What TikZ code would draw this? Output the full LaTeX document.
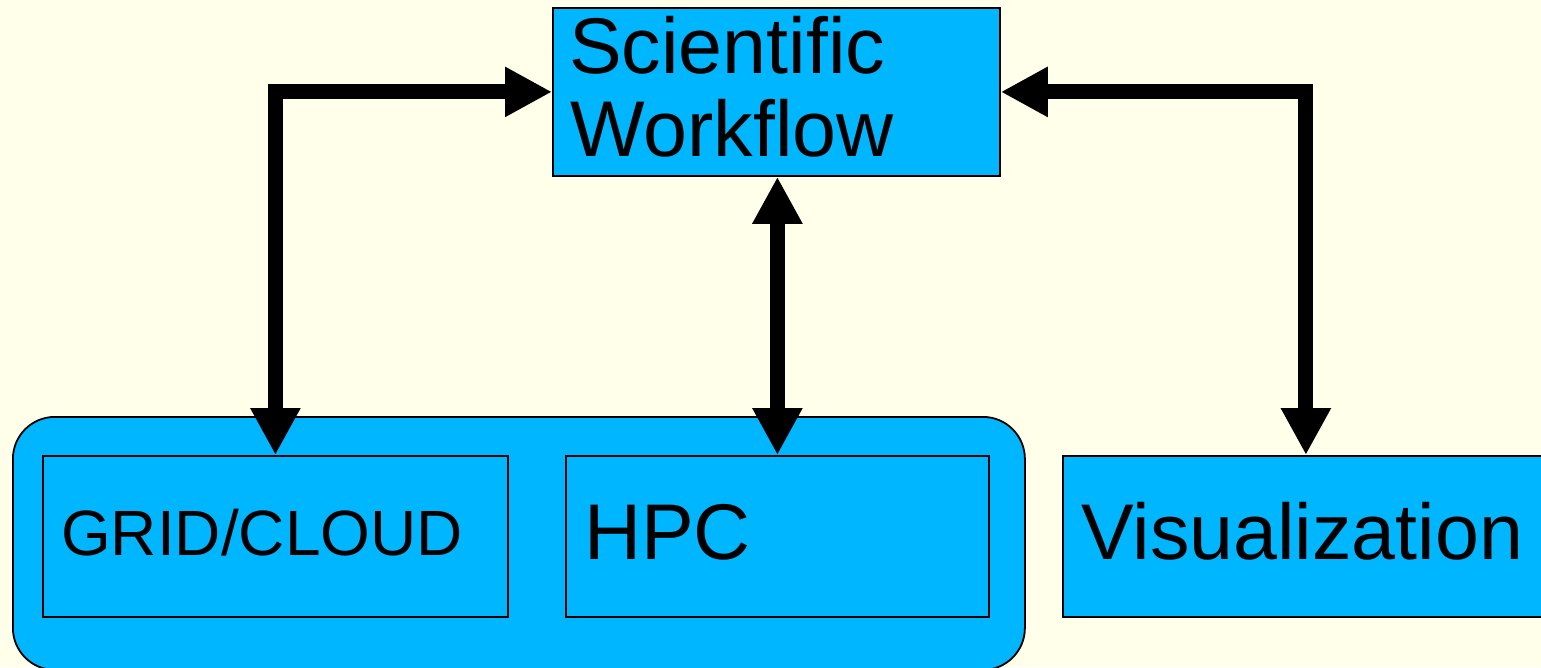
\documentclass[tikz,border=0pt]{standalone}
\usepackage{fontspec}
\setmainfont{Liberation Sans}
\usetikzlibrary{arrows.meta}
\definecolor{paper}{RGB}{255,255,234}
\definecolor{boxblue}{RGB}{0,183,255}
\begin{document}
\begin{tikzpicture}[x=1pt,y=-1pt,
  box/.style={draw=black, line width=1.8pt, fill=boxblue, inner sep=0pt, anchor=north west},
  bigtxt/.style={font=\fontsize{79}{85}\selectfont, inner sep=0pt, anchor=base west},
  midtxt/.style={font=\fontsize{64}{70}\selectfont, inner sep=0pt, anchor=base west},
  link/.style={line width=15pt, line join=miter, {Triangle[width=47pt,length=47pt]}-{Triangle[width=47pt,length=47pt]}}]
  % page and background
  \useasboundingbox (0,0) rectangle (1541,667);
  \clip (0,0) rectangle (1541,667);
  \fill[paper] (0,0) rectangle (1541,667);

  % rounded group holding the compute resources
  \node[box, rounded corners=42pt, minimum width=1012pt, minimum height=253pt] (group) at (12,416) {};

  % boxes
  \node[box, minimum width=447pt, minimum height=168pt] (sw) at (552,7) {};
  \node[box, minimum width=465pt, minimum height=161pt] (grid) at (42,455) {};
  \node[box, minimum width=423pt, minimum height=161pt] (hpc) at (565,455) {};
  \node[box, minimum width=486pt, minimum height=161pt] (vis) at (1062,455) {};

  % labels
  \node[bigtxt] (swa) at (569,73) {Scientific};
  \node[bigtxt] (swb) at (570,156) {Workflow};
  \node[midtxt] (gridt) at (61,555) {GRID/CLOUD};
  \node[bigtxt] (hpct) at (584,559) {HPC};
  \node[bigtxt] (vist) at (1081,559) {Visualization};

  % connectors
  \draw[link] (grid.north) |- (sw.west);
  \draw[link] (sw.south -| hpc.north) -- (hpc.north);
  \draw[link] (vis.north) |- (sw.east);
\end{tikzpicture}
\end{document}
